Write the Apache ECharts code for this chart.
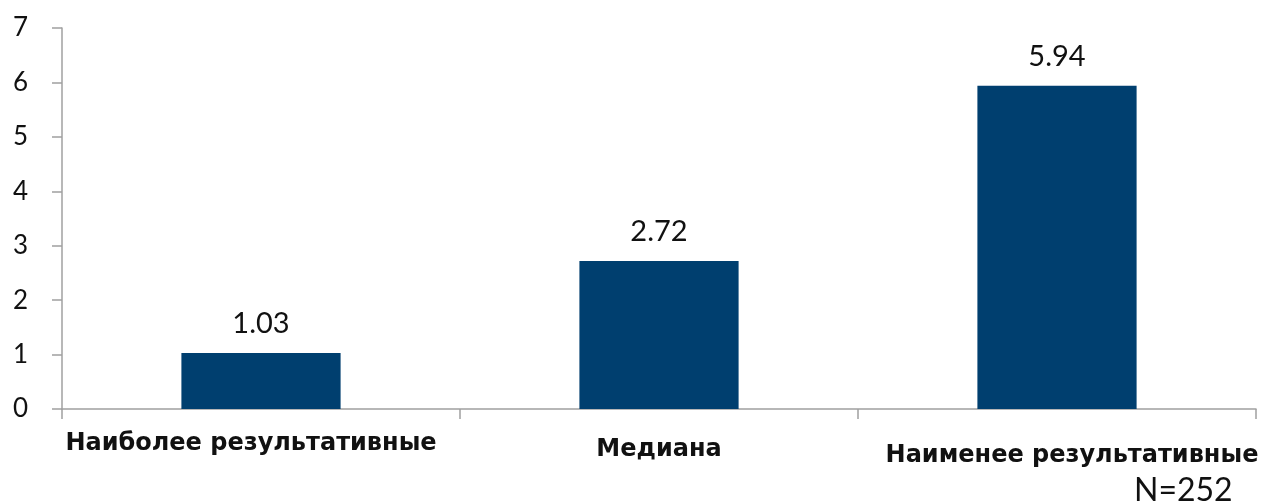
<!DOCTYPE html>
<html><head><meta charset="utf-8">
<script src="https://cdn.jsdelivr.net/npm/echarts@6/dist/echarts.min.js"></script>
<style>html,body{margin:0;padding:0;background:#fff}#c{width:1277px;height:504px}</style>
</head><body><div id="c"></div>
<script>
const categories = ['Наиболее результативные', 'Медиана', 'Наименее результативные'];
const values = [1.03, 2.72, 5.94];
const yTicks = [0, 1, 2, 3, 4, 5, 6, 7];
const note = 'N=252';

const labelPads = [[0, 20, 0, 0], [6, 0, 0, 0], [12, 0, 0, 30]];
const chart = echarts.init(document.getElementById('c'));
chart.setOption({
  animation: false,
  grid: { left: 62, right: 21, top: 28, bottom: 95, containLabel: false },
  xAxis: {
    type: 'category',
    data: categories.map((c, i) => ({ value: c, textStyle: { padding: labelPads[i] } })),
    axisLine: { lineStyle: { color: '#a0a0a0', width: 1.5 } },
    axisTick: { show: true, length: 10, lineStyle: { color: '#a0a0a0', width: 1.5 } },
    axisLabel: { color: '#111', fontFamily: 'DejaVu Sans', fontWeight: 'bold', fontSize: 24, margin: 23,
      interval: 0, hideOverlap: false }
  },
  yAxis: {
    type: 'value', min: yTicks[0], max: yTicks[yTicks.length - 1], interval: 1,
    axisLine: { show: true, lineStyle: { color: '#a0a0a0', width: 1.5 } },
    axisTick: { show: true, length: 10, lineStyle: { color: '#a0a0a0', width: 1.5 } },
    splitLine: { show: false },
    axisLabel: { color: '#111', fontFamily: 'Lato', fontSize: 26, margin: 34 }
  },
  series: [{
    type: 'bar', data: values, barWidth: '40%',
    itemStyle: { color: '#003F6F' },
    label: { show: true, position: 'top', distance: 15, color: '#111', fontFamily: 'Lato', fontSize: 29,
      formatter: p => p.value.toFixed(2) }
  }],
  graphic: [{ type: 'text', left: 1134, top: 475, style: { text: note, fontFamily: 'Lato', fontSize: 32, fill: '#111' } }]
});
</script></body></html>
